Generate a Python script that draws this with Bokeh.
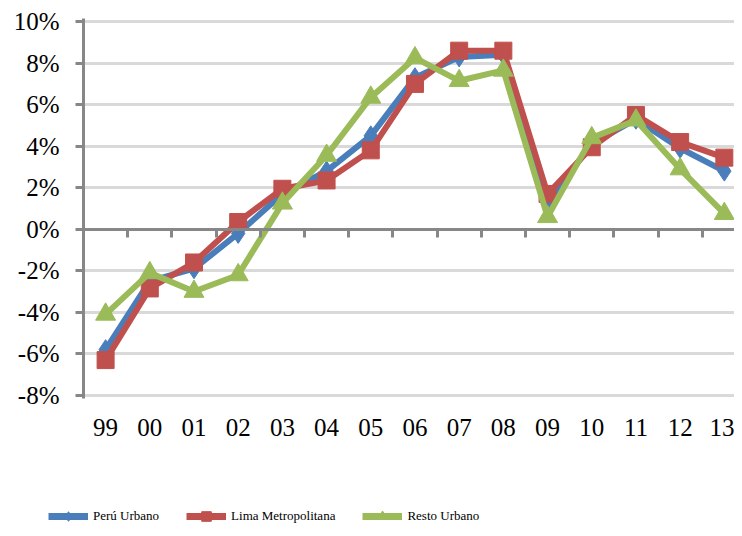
from bokeh.plotting import figure
from bokeh.models import (Range1d, FixedTicker, LinearAxis, Legend, LegendItem,
                          PrintfTickFormatter)
from bokeh.layouts import column, row
from bokeh.embed import file_html
from bokeh.resources import INLINE

years = ["99", "00", "01", "02", "03", "04", "05", "06", "07", "08", "09", "10", "11", "12", "13"]
peru_urbano = [-5.8, -2.5, -1.9, -0.2, 1.7, 2.8, 4.5, 7.3, 8.3, 8.4, 1.3, 4.1, 5.3, 3.9, 2.8]
lima_metropolitana = [-6.3, -2.85, -1.6, 0.35, 1.95, 2.35, 3.8, 7.0, 8.6, 8.6, 1.7, 3.95, 5.5, 4.2, 3.45]
resto_urbano = [-4.1, -2.1, -3.0, -2.2, 1.25, 3.55, 6.35, 8.25, 7.15, 7.65, 0.6, 4.4, 5.25, 2.9, 0.75]
y_ticks = [-8, -6, -4, -2, 0, 2, 4, 6, 8, 10]

FONT = "Liberation Serif"
GRAY = "#878787"

x = list(range(len(years)))

p = figure(width=734, height=470, output_backend="svg", toolbar_location=None,
           x_range=Range1d(-0.5, 14.23), y_range=Range1d(-8.15, 10.15),
           min_border_left=83, min_border_right=0, min_border_top=18,
           min_border_bottom=72, x_axis_type=None)
p.outline_line_color = None
p.background_fill_color = "white"

# y axis
p.yaxis.ticker = FixedTicker(ticks=y_ticks)
p.yaxis.formatter = PrintfTickFormatter(format="%d%%")
p.yaxis.axis_line_color = GRAY
p.yaxis.axis_line_width = 3
p.yaxis.major_tick_line_color = GRAY
p.yaxis.major_tick_line_width = 3
p.yaxis.major_tick_out = 8
p.yaxis.major_tick_in = 0
p.yaxis.minor_tick_line_color = None
p.yaxis.major_label_text_font = FONT
p.yaxis.major_label_text_font_size = "25px"
p.yaxis.major_label_text_color = "black"
p.yaxis.major_label_standoff = 16

p.ygrid.grid_line_color = "#d9d9d9"
p.ygrid.grid_line_width = 3
p.ygrid.ticker = FixedTicker(ticks=y_ticks)
p.xgrid.grid_line_color = None

# bottom axis with category labels
xa = LinearAxis(ticker=FixedTicker(ticks=x),
                major_label_overrides={i: y for i, y in enumerate(years)})
xa.axis_line_color = None
xa.major_tick_line_color = None
xa.major_tick_out = 0
xa.major_tick_in = 0
xa.minor_tick_line_color = None
xa.major_label_text_font = FONT
xa.major_label_text_font_size = "25px"
xa.major_label_text_color = "black"
xa.major_label_standoff = 20
p.add_layout(xa, "below")

# zero axis with boundary ticks
bounds = [i + 0.5 for i in x[:-1]]
za = LinearAxis(ticker=FixedTicker(ticks=bounds), fixed_location=0,
                major_label_overrides={b: "" for b in bounds})
za.axis_line_color = GRAY
za.axis_line_width = 3
za.major_tick_line_color = GRAY
za.major_tick_line_width = 3
za.major_tick_out = 8
za.major_tick_in = 0
za.minor_tick_line_color = None
za.major_label_standoff = 0
p.add_layout(za, "below")

series = [
    ("Perú Urbano", peru_urbano, "#4a7ebb", "diamond", 20),
    ("Lima Metropolitana", lima_metropolitana, "#c0504d", "square", 17),
    ("Resto Urbano", resto_urbano, "#9bbb59", "triangle", 20),
]

# legend strip below the chart (its ranges keep the series out of view)
lf = figure(width=734, height=58, output_backend="svg", toolbar_location=None,
            x_range=Range1d(100, 101), y_range=Range1d(100, 101),
            x_axis_type=None, y_axis_type=None,
            min_border_left=0, min_border_right=0, min_border_top=0, min_border_bottom=0)
lf.outline_line_color = None
lf.xgrid.grid_line_color = None
lf.ygrid.grid_line_color = None

items = []
for label, vals, color, marker, size in series:
    p.line(x, vals, line_color=color, line_width=6, line_join="round")
    p.scatter(x, vals, marker=marker, size=size, fill_color=color, line_color=color)
    ll = lf.line(x, vals, line_color=color, line_width=7)
    ls = lf.scatter(x, vals, marker=marker, size=size, fill_color=color, line_color=color)
    items.append(LegendItem(label=label, renderers=[ll, ls]))

legend = Legend(items=items, orientation="horizontal", location=(48, 0))
legend.label_text_font = FONT
legend.label_text_font_size = "13px"
legend.label_text_color = "black"
legend.glyph_width = 40
legend.glyph_height = 24
legend.label_standoff = 5
legend.spacing = 27
legend.padding = 0
legend.margin = 0
legend.border_line_color = None
legend.background_fill_alpha = 0
lf.add_layout(legend, "center")

open("out.html", "w").write(file_html(column(p, row(lf)), INLINE))
